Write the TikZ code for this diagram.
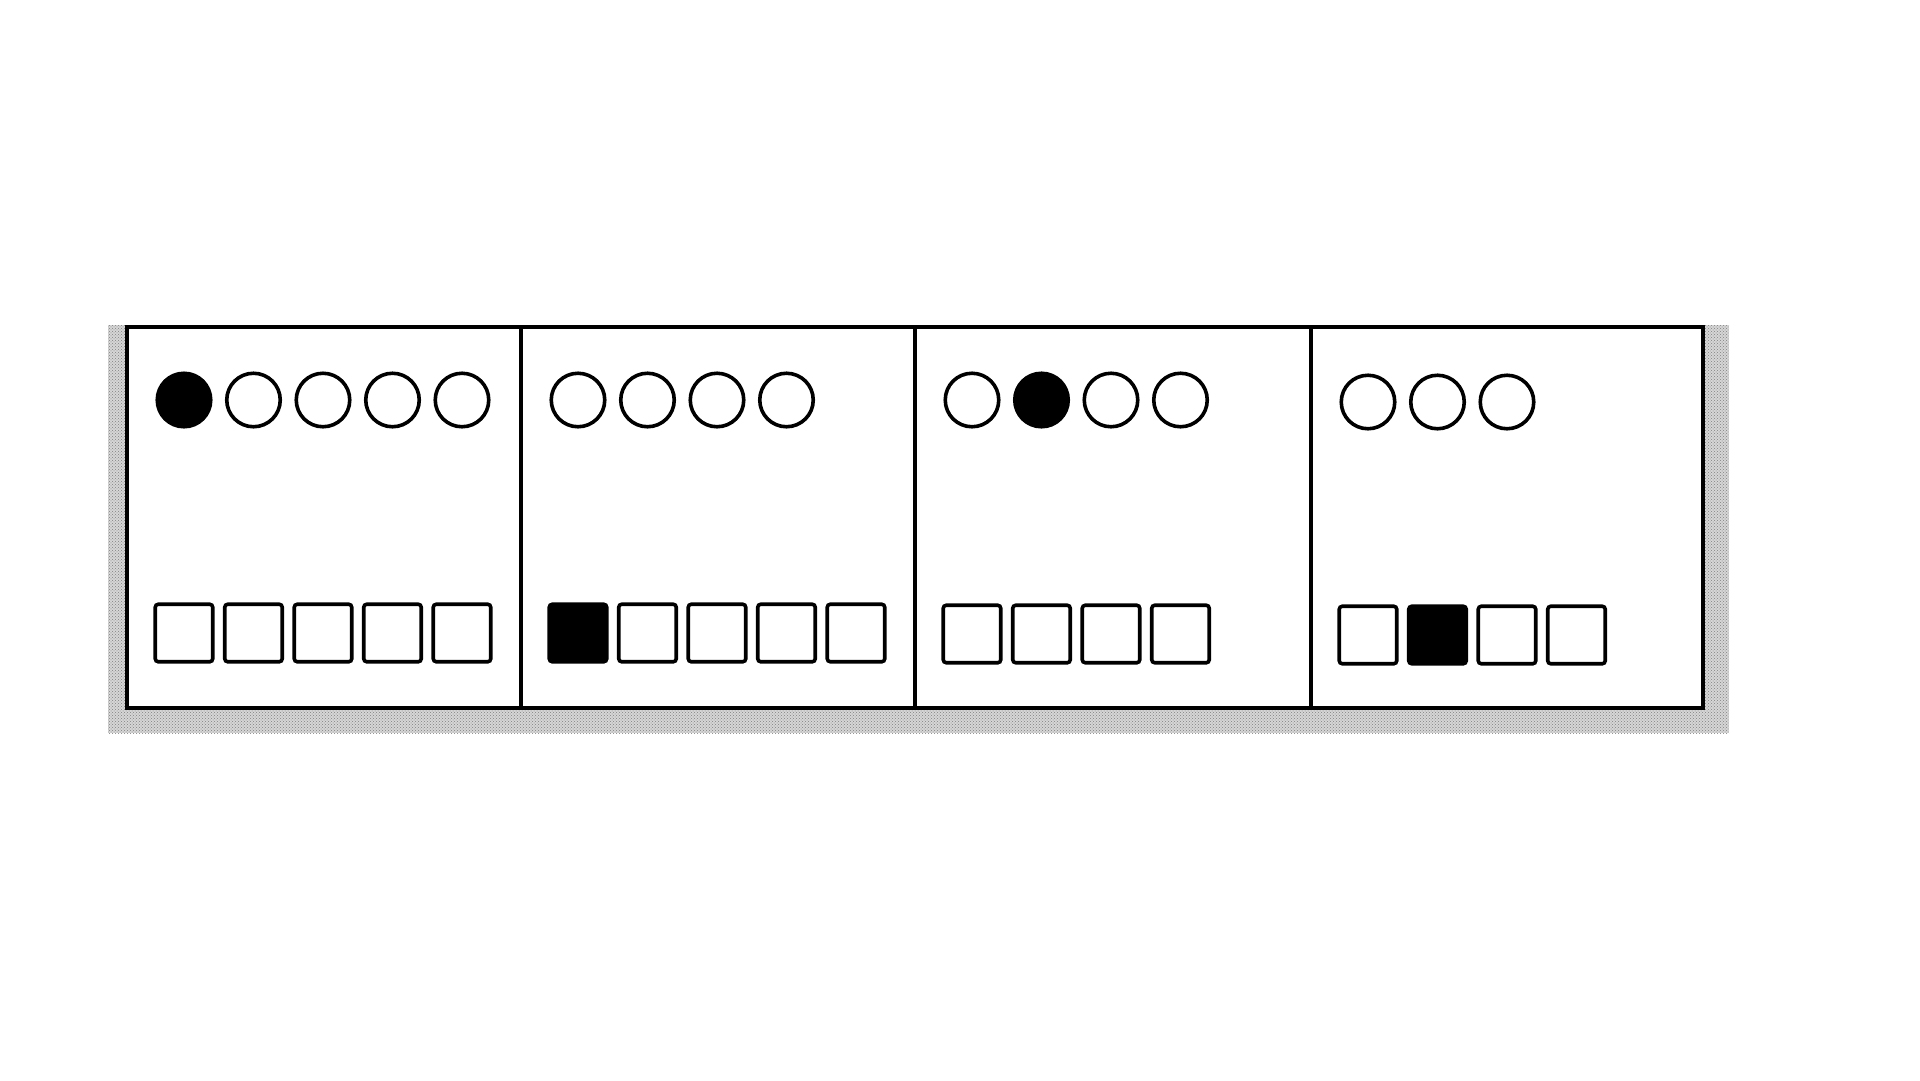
\documentclass[tikz,border=0pt]{standalone}
\usetikzlibrary{patterns}
\definecolor{paper}{RGB}{214,214,214}
\tikzset{
  x=1pt, y=-1pt,
  dot/.style={circle, draw=black, line width=3.6pt, minimum size=53.5pt, inner sep=0pt, fill=white},
  dotfull/.style={dot, fill=black},
  cell/.style={rectangle, draw=black, line width=3.6pt, minimum size=57.5pt, inner sep=0pt, rounded corners=3pt, fill=white},
  cellfull/.style={cell, fill=black},
  frameline/.style={draw=black, line width=3.8pt},
}
\begin{document}
\begin{tikzpicture}
\useasboundingbox (0,0) rectangle (1920,1080);
\fill[white] (0,0) rectangle (1920,1080);
% grey backing
\fill[paper] (108,325) rectangle (1729,733);
\fill[pattern=crosshatch dots, pattern color=gray] (108,325) rectangle (1729,733);
% frame
\fill[white] (127,327) rectangle (1703,708);
\draw[frameline] (127,327) rectangle (1703,708);
\draw[frameline] (521,327) -- (521,708);
\draw[frameline] (915,327) -- (915,708);
\draw[frameline] (1311,327) -- (1311,708);
% panel 1
\node[dotfull] (p1c0) at (184,400) {};
\foreach \i in {1,...,4} \node[dot] (p1c\i) at ({184+69.5*\i},400) {};
\foreach \i in {0,...,4} \node[cell] (p1s\i) at ({184+69.5*\i},633) {};
% panel 2
\foreach \i in {0,...,3} \node[dot] (p2c\i) at ({578+69.5*\i},400) {};
\node[cellfull] (p2s0) at (578,633) {};
\foreach \i in {1,...,4} \node[cell] (p2s\i) at ({578+69.5*\i},633) {};
% panel 3
\node[dot] (p3c0) at (972,400) {};
\node[dotfull] (p3c1) at (1041.5,400) {};
\foreach \i in {2,3} \node[dot] (p3c\i) at ({972+69.5*\i},400) {};
\foreach \i in {0,...,3} \node[cell] (p3s\i) at ({972+69.5*\i},634) {};
% panel 4
\foreach \i in {0,...,2} \node[dot] (p4c\i) at ({1368+69.5*\i},402) {};
\node[cell] (p4s0) at (1368,635) {};
\node[cellfull] (p4s1) at (1437.5,635) {};
\foreach \i in {2,3} \node[cell] (p4s\i) at ({1368+69.5*\i},635) {};
\end{tikzpicture}
\end{document}
